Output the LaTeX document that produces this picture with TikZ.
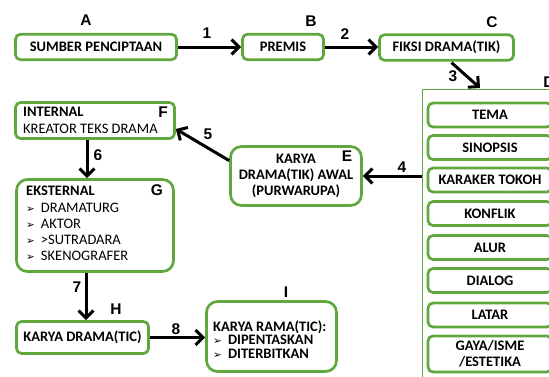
\documentclass[tikz,border=0pt]{standalone}
\usepackage{fontspec}
\setmainfont{Carlito}
\newfontfamily\dvfont{DejaVu Sans}
\newfontfamily\labfont{Liberation Sans}
\usetikzlibrary{arrows.meta,calc}
\definecolor{grn}{RGB}{96,168,62}
\newcommand{\bul}{{\dvfont\fontsize{10.5}{10}\selectfont ➢}\hspace{6pt}}
\tikzset{
  bx/.style={draw=grn, line width=2.7pt, rounded corners=5pt, align=center, inner sep=0pt,
             font=\bfseries\fontsize{14.5}{16}\selectfont},
  bigbx/.style={bx, rounded corners=11pt},
  lbl/.style={font=\labfont\bfseries\fontsize{15.5}{15}\selectfont, inner sep=0pt},
  txtb/.style={font=\bfseries\fontsize{14.5}{16}\selectfont, inner sep=0pt, anchor=base west},
  txtr/.style={font=\fontsize{14.5}{16}\selectfont, inner sep=0pt, anchor=base west},
  arr/.style={line width=3pt, -{Straight Barb[length=7.5pt,width=15pt]}},
}
\begin{document}
\begin{tikzpicture}[x=1pt,y=-1pt]
\useasboundingbox (0,0) rectangle (549,376);
% top row
\node[bx, minimum width=161pt, minimum height=25.5pt] (A) at (96,47) {SUMBER PENCIPTAAN};
\node[bx, minimum width=81pt, minimum height=25.5pt] (B) at (283,47) {PREMIS};
\node[bx, minimum width=134pt, minimum height=25.5pt] (C) at (446.5,47.5) {FIKSI DRAMA(TIK)};
\node[lbl] (LA) at (86,20) {A};
\node[lbl] (LB) at (311,21) {B};
\node[lbl] (LC) at (492,22) {C};
% D panel
\node[draw=grn, line width=1.4pt, anchor=north west, inner sep=0pt,
      minimum width=150pt, minimum height=300pt] (D) at (422,89) {};
\node[lbl] (LD) at (549,82) {D};
\node[bx, minimum width=124pt, minimum height=24pt] (d1) at (490,115) {TEMA};
\node[bx, minimum width=124pt, minimum height=24pt] (d2) at (490,147.5) {SINOPSIS};
\node[bx, minimum width=124pt, minimum height=24pt] (d3) at (490,180) {KARAKER TOKOH};
\node[bx, minimum width=124pt, minimum height=24pt] (d4) at (490,213.5) {KONFLIK};
\node[bx, minimum width=124pt, minimum height=24pt] (d5) at (490,247.5) {ALUR};
\node[bx, minimum width=124pt, minimum height=24pt] (d6) at (490,280.5) {DIALOG};
\node[bx, minimum width=124pt, minimum height=24pt] (d7) at (490,315) {LATAR};
\node[bx, minimum width=124pt, minimum height=36pt] (d8) at (490,354) {GAYA/ISME\\/ESTETIKA};
% E
\node[bigbx, minimum width=131pt, minimum height=59pt] (E) at (296,176) {KARYA\\DRAMA(TIK) AWAL\\(PURWARUPA)};
\node[lbl] (LE) at (347,156) {E};
% F
\node[bx, minimum width=159pt, minimum height=36pt] (F) at (95,120.5) {};
\node[txtb] (F1) at (23,116.5) {INTERNAL};
\node[txtr] (F2) at (23,133.5) {KREATOR TEKS DRAMA};
\node[lbl] (LF) at (163,112) {F};
% G
\node[bigbx, minimum width=157pt, minimum height=92pt] (G) at (95,225.5) {};
\node[txtb] (G0) at (26,195.7) {EKSTERNAL};
\node[txtr] (G1) at (26,212.7) {\bul DRAMATURG};
\node[txtr] (G2) at (26,228.7) {\bul AKTOR};
\node[txtr] (G3) at (26,244.7) {\bul >SUTRADARA};
\node[txtr] (G4) at (26,260.7) {\bul SKENOGRAFER};
\node[lbl] (LG) at (157,190) {G};
% H
\node[bx, minimum width=132pt, minimum height=32pt] (H) at (82.5,337.5) {KARYA DRAMA(TIC)};
\node[lbl] (LH) at (116,309) {H};
% I
\node[bigbx, minimum width=130pt, minimum height=70pt] (I) at (271.5,336.5) {};
\node[txtb] (I0) at (213,331.7) {KARYA RAMA(TIC):};
\node[txtb] (I1) at (213,344.9) {\bul DIPENTASKAN};
\node[txtb] (I2) at (213,358.1) {\bul DITERBITKAN};
\node[lbl] (LI) at (286,292) {I};
% arrows
\draw[arr] (A.east) -- (B.west);
\draw[arr] (B.east) -- (B.east -| C.west);
\draw[arr] ($(C.south)+(5,1)$) -- ($(D.north west)+(58,-1)$);
\draw[arr] (D.west |- E.east) -- (E.east);
\draw[arr] (E.167) -- (F.-6);
\draw[arr] ([xshift=-8pt]F.south) -- ([xshift=-8pt]G.north);
\draw[arr] ([xshift=-9pt]G.south) -- ([xshift=-9pt]G.south |- H.north);
\draw[arr] (H.east) -- (H.east -| I.west);
% number labels
\node[lbl] (n1) at (207,33) {1};
\node[lbl] (n2) at (345,34) {2};
\node[lbl] (n3) at (453,76) {3};
\node[lbl] (n4) at (402,167) {4};
\node[lbl] (n5) at (208,134) {5};
\node[lbl] (n6) at (98,155) {6};
\node[lbl] (n7) at (77,287) {7};
\node[lbl] (n8) at (176,329) {8};
\end{tikzpicture}
\end{document}
